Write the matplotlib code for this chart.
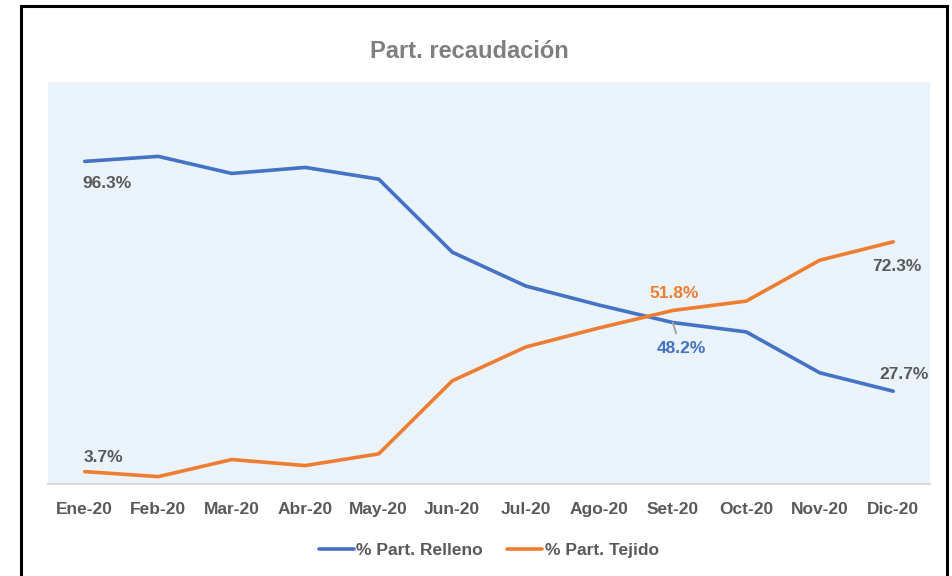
import matplotlib
matplotlib.use('Agg')
from matplotlib import pyplot
from matplotlib.patches import Rectangle

# Data
MONTHS = ['Ene-20', 'Feb-20', 'Mar-20', 'Abr-20', 'May-20', 'Jun-20',
          'Jul-20', 'Ago-20', 'Set-20', 'Oct-20', 'Nov-20', 'Dic-20']
RELLENO = [96.3, 97.8, 92.7, 94.5, 91.0, 69.2, 59.1, 53.4, 48.2, 45.4, 33.2, 27.7]
TEJIDO = [3.7, 2.2, 7.3, 5.5, 9.0, 30.8, 40.9, 46.6, 51.8, 54.6, 66.8, 72.3]

BLUE = '#4472C4'
ORANGE = '#ED7D31'
GRAY = '#595959'

pyplot.rcParams['font.family'] = ['Liberation Sans', 'DejaVu Sans']


def main():
    figure = pyplot.figure(figsize=(9.53, 5.76), dpi=100)
    axes = figure.add_axes([48 / 953, 92 / 576, 882 / 953, 402 / 576])
    axes.set_facecolor('#EAF2FA')

    x = list(range(len(MONTHS)))
    axes.plot(x, RELLENO, color=BLUE, linewidth=2.6, label='% Part. Relleno', solid_capstyle='round')
    axes.plot(x, TEJIDO, color=ORANGE, linewidth=2.6, label='% Part. Tejido', solid_capstyle='round')

    axes.set_xlim(-0.5, len(MONTHS) - 0.5)
    axes.set_ylim(0, 120)
    axes.set_yticks([])
    axes.set_xticks(x)
    axes.set_xticklabels(MONTHS, fontsize=12.5, fontweight='bold', color=GRAY)
    axes.tick_params(axis='x', length=0, pad=13)
    for side in ('top', 'left', 'right'):
        axes.spines[side].set_visible(False)
    axes.spines['bottom'].set_color('#D9D9D9')
    axes.spines['bottom'].set_linewidth(1.5)

    label_style = dict(fontsize=12.5, fontweight='bold')
    # First and last month labels
    axes.annotate(f'{RELLENO[0]}%', (0, RELLENO[0]), xytext=(-2, -16), textcoords='offset points',
                  ha='left', va='center', color=GRAY, **label_style)
    axes.annotate(f'{TEJIDO[0]}%', (0, TEJIDO[0]), xytext=(-1, 10), textcoords='offset points',
                  ha='left', va='center', color=GRAY, **label_style)
    last = len(MONTHS) - 1
    axes.annotate(f'{TEJIDO[last]}%', (last, TEJIDO[last]), xytext=(-15, -18), textcoords='offset points',
                  ha='left', va='center', color=GRAY, **label_style)
    axes.annotate(f'{RELLENO[last]}%', (last, RELLENO[last]), xytext=(-10, 12), textcoords='offset points',
                  ha='left', va='center', color=GRAY, **label_style)
    # Crossing month labels
    sep = MONTHS.index('Set-20')
    axes.annotate(f'{TEJIDO[sep]}%', (sep, TEJIDO[sep]), xytext=(1, 12), textcoords='offset points',
                  ha='center', va='center', color=ORANGE, **label_style)
    axes.annotate(f'{RELLENO[sep]}%', (sep, RELLENO[sep]), xytext=(6, -19), textcoords='offset points',
                  ha='center', va='center', color=BLUE, **label_style,
                  arrowprops=dict(arrowstyle='-', color='#A6A6A6', linewidth=1.5, shrinkA=4, shrinkB=0))

    figure.suptitle('Part. recaudación', x=0.493, y=0.93, fontsize=17, fontweight='bold', color='#7F7F7F')

    figure.legend(loc='center', bbox_to_anchor=(0.513, 0.044), ncol=2, frameon=False,
                  prop={'size': 12.5, 'weight': 'bold'}, labelcolor=GRAY,
                  handlelength=2.0, handletextpad=0.15, columnspacing=1.4)

    # Outer black frame
    figure.patches.append(Rectangle((21 / 953, -0.05), (947 - 21) / 953, 1.05 - 6 / 576,
                                    transform=figure.transFigure, fill=False,
                                    edgecolor='black', linewidth=2.2))

    figure.savefig('out.png', dpi=100)


if __name__ == '__main__':
    main()
